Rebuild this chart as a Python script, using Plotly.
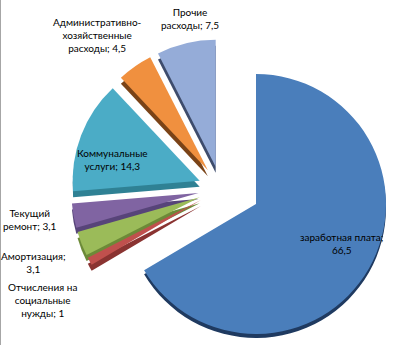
import plotly.graph_objects as go

# Cost structure, % of total
categories = [
    "заработная плата",
    "Отчисления на социальные нужды",
    "Амортизация",
    "Текущий ремонт",
    "Коммунальные услуги",
    "Административно-хозяйственные расходы",
    "Прочие расходы",
]
values = [66.5, 1, 3.1, 3.1, 14.3, 4.5, 7.5]

# how each label is broken over lines (the value is appended after the last piece)
label_lines = [
    ["заработная плата;", ""],
    ["Отчисления на", "социальные", "нужды;"],
    ["Амортизация;", ""],
    ["Текущий", "ремонт;"],
    ["Коммунальные", "услуги;"],
    ["Административно-", "хозяйственные", "расходы;"],
    ["Прочие", "расходы;"],
]

top_colors = ["#4a7ebb", "#c0504d", "#9bbb59", "#8064a2", "#4bacc6", "#f0903f", "#95acd8"]
side_colors = ["#1f3a60", "#8a3331", "#6c8a38", "#574479", "#2f8194", "#7a4317", "#3e4c6c"]
CLEAR = "rgba(0,0,0,0)"

W, H = 395, 345

# the main slice sits on its own centre; the rest share one centre and are pulled out
MAIN_CX, MAIN_CY, MAIN_R, MAIN_DEPTH = 256, 204, 130, 4
REST_CX, REST_CY, REST_R, REST_DEPTH, REST_PULL = 221, 189, 127, 6, 0.18


def domain(cx, cy, half):
    return dict(
        x=[(cx - half) / W, (cx + half) / W],
        y=[(H - cy - half) / H, (H - cy + half) / H],
    )


def fmt(v):
    return f"{v:g}".replace(".", ",")


main_only = [i == 0 for i in range(len(values))]


def colours(palette, show_main):
    return [c if (m == show_main) else CLEAR for c, m in zip(palette, main_only)]


rest_pull = [0 if m else REST_PULL for m in main_only]

pie_common = dict(labels=categories, values=values, sort=False, direction="clockwise",
                  rotation=0, textinfo="none", showlegend=False)

fig = go.Figure()

# darker copies shifted down give the slice sides
fig.add_trace(go.Pie(**pie_common, hoverinfo="skip",
                     marker=dict(colors=colours(side_colors, True), line=dict(width=0)),
                     domain=domain(MAIN_CX, MAIN_CY + MAIN_DEPTH, MAIN_R)))
fig.add_trace(go.Pie(**pie_common, hoverinfo="skip", pull=rest_pull,
                     marker=dict(colors=colours(side_colors, False), line=dict(width=0)),
                     domain=domain(REST_CX, REST_CY + REST_DEPTH, REST_R * (1 + REST_PULL))))
# top faces
fig.add_trace(go.Pie(**pie_common,
                     marker=dict(colors=colours(top_colors, True), line=dict(width=0)),
                     domain=domain(MAIN_CX, MAIN_CY, MAIN_R)))
fig.add_trace(go.Pie(**pie_common, pull=rest_pull,
                     marker=dict(colors=colours(top_colors, False), line=dict(width=0)),
                     domain=domain(REST_CX, REST_CY, REST_R * (1 + REST_PULL))))

# label anchors (px, centre of text block)
label_pos = [
    (341, 243),
    (42, 300),
    (33, 262),
    (30, 220),
    (112, 159),
    (97, 35),
    (190, 19),
]

annotations = []
for pieces, v, (px, py) in zip(label_lines, values, label_pos):
    lines = list(pieces)
    lines[-1] = (lines[-1] + " " + fmt(v)).strip()
    annotations.append(dict(
        x=px / W, y=1 - py / H, xref="paper", yref="paper",
        text="<br>".join(lines), showarrow=False,
        xanchor="center", yanchor="middle", align="center",
        font=dict(family="Lato", size=10, color="#000000"),
    ))

fig.update_layout(
    width=W, height=H,
    margin=dict(l=0, r=0, t=0, b=0),
    paper_bgcolor="#ffffff", plot_bgcolor="#ffffff",
    annotations=annotations,
    shapes=[dict(type="line", xref="paper", yref="paper", x0=0, x1=0, y0=0, y1=1,
                 line=dict(color="#a6a6a6", width=2))],
)

fig.write_html("out.html")
